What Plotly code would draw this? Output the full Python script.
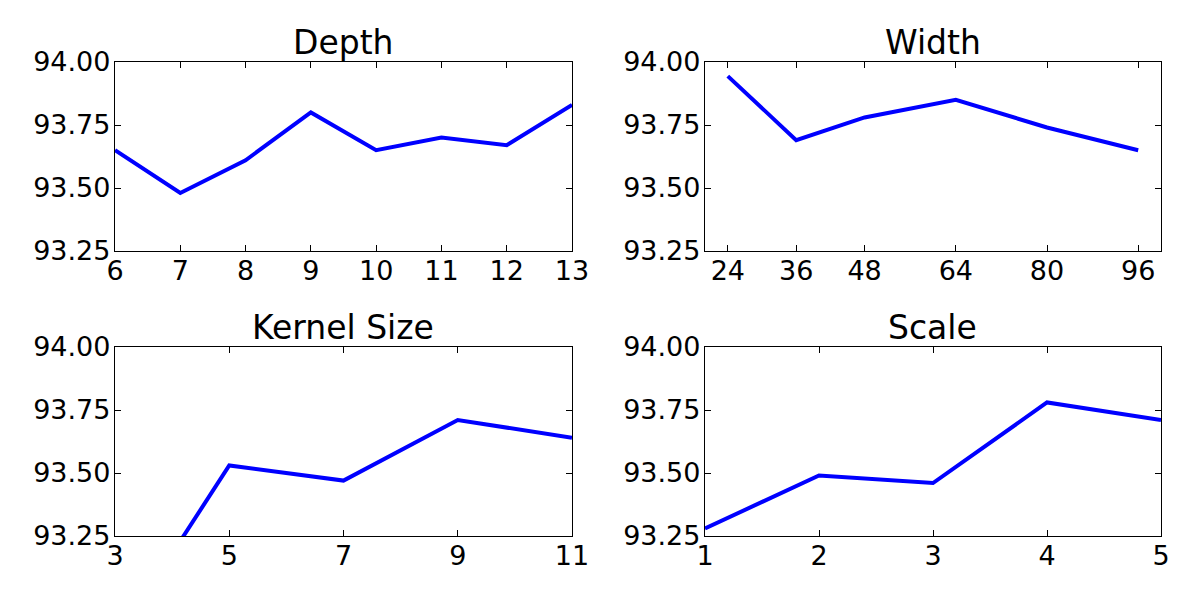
import plotly.graph_objects as go

depth_x = [6, 7, 8, 9, 10, 11, 12, 13]
depth_y = [93.65, 93.48, 93.61, 93.80, 93.65, 93.70, 93.67, 93.83]

width_x = [24, 36, 48, 64, 80, 96]
width_y = [93.944, 93.69, 93.78, 93.85, 93.74, 93.65]

kernel_x = [3, 5, 7, 9, 11]
kernel_y = [92.83, 93.53, 93.47, 93.71, 93.64]

scale_x = [1, 2, 3, 4, 5]
scale_y = [93.28, 93.49, 93.46, 93.78, 93.71]

titles = ["Depth", "Width", "Kernel Size", "Scale"]
y_ticks = [93.25, 93.50, 93.75, 94.00]

panels = [
    (depth_x, depth_y, [6, 13], [6, 7, 8, 9, 10, 11, 12, 13]),
    (width_x, width_y, [20, 100], [24, 36, 48, 64, 80, 96]),
    (kernel_x, kernel_y, [3, 11], [3, 5, 7, 9, 11]),
    (scale_x, scale_y, [1, 5], [1, 2, 3, 4, 5]),
]

OFF = 8  # page body margin
xdomains = [[(115 - OFF) / 1200, (572 - OFF) / 1200],
            [(705 - OFF) / 1200, (1161 - OFF) / 1200]]
ydomains = [[1 - (251 - OFF) / 600, 1 - (62 - OFF) / 600],
            [1 - (536 - OFF) / 600, 1 - (347 - OFF) / 600]]

FONT = "DejaVu Sans"
fig = go.Figure()
layout = {}
annotations = []
for i, (xs, ys, xr, xt) in enumerate(panels):
    r, c = divmod(i, 2)
    n = "" if i == 0 else str(i + 1)
    fig.add_trace(go.Scatter(
        x=xs, y=ys, mode="lines",
        line=dict(color="#0000ff", width=4),
        xaxis="x" + n, yaxis="y" + n, showlegend=False,
        hoverinfo="skip",
    ))
    common = dict(
        showgrid=False, zeroline=False, showline=True, linecolor="black",
        linewidth=1.3, mirror="ticks", ticks="inside", ticklen=6,
        tickcolor="black", tickwidth=1, automargin=False,
        tickfont=dict(family=FONT, size=27, color="black"),
    )
    layout["xaxis" + n] = dict(
        domain=xdomains[c], range=xr, tickmode="array", tickvals=xt,
        ticktext=[str(v) for v in xt], anchor="y" + n,
        ticklabelstandoff=-5, **common,
    )
    layout["yaxis" + n] = dict(
        domain=ydomains[r], range=[93.25, 94.0], tickmode="array",
        tickvals=y_ticks, ticktext=["%.2f" % v for v in y_ticks],
        anchor="x" + n, ticklabelstandoff=-2, **common,
    )
    annotations.append(dict(
        text=titles[i], x=sum(xdomains[c]) / 2, y=ydomains[r][1],
        xref="paper", yref="paper", xanchor="center", yanchor="bottom",
        showarrow=False, font=dict(family=FONT, size=33, color="black"),
        yshift=-2,
    ))

fig.update_layout(
    width=1200, height=600, margin=dict(l=0, r=0, t=0, b=0, autoexpand=False),
    paper_bgcolor="white", plot_bgcolor="white",
    annotations=annotations, **layout,
)
fig.write_html("out.html")
